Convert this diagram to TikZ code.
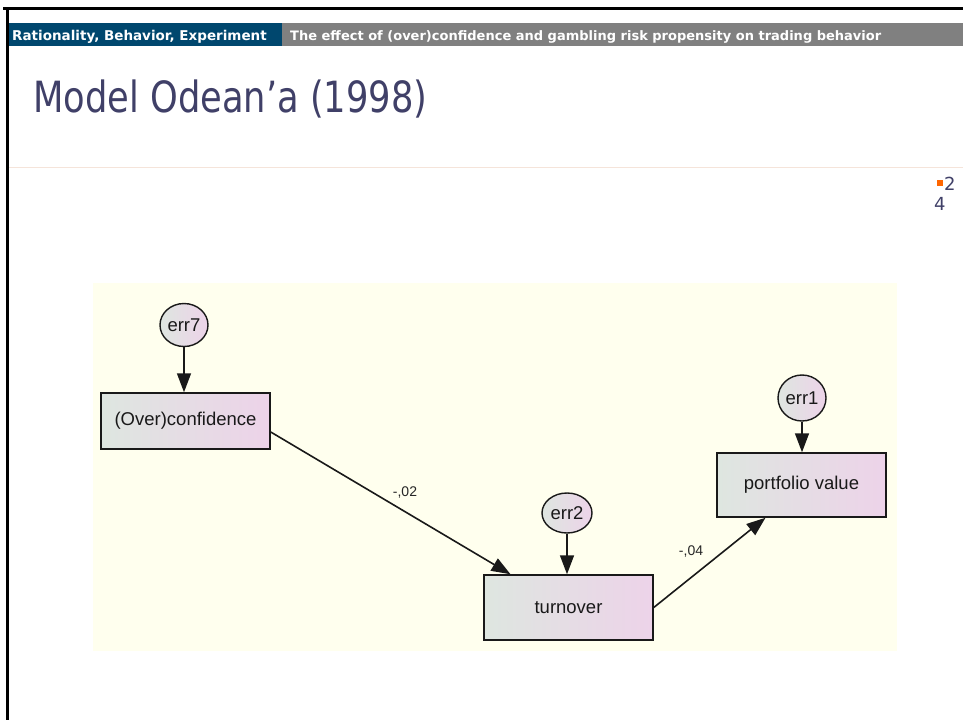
\documentclass[tikz,border=0pt]{standalone}
\usepackage{fontspec}
\setmainfont{Liberation Sans}
\newfontfamily\hdrfont{DejaVu Sans}
\newfontfamily\titlefont[FakeStretch=0.82]{DejaVu Sans}
\usetikzlibrary{shapes.geometric,arrows.meta}
\definecolor{hdrblue}{RGB}{0,71,110}
\definecolor{hdrgray}{RGB}{128,128,128}
\definecolor{titlecol}{RGB}{64,64,104}
\definecolor{sepcol}{RGB}{245,228,218}
\definecolor{bgyellow}{RGB}{255,255,238}
\definecolor{shadeL}{RGB}{222,230,224}
\definecolor{shadeR}{RGB}{237,211,233}
\definecolor{pgorange}{RGB}{255,102,0}
\tikzset{
  varbox/.style={rectangle, draw=black!90, line width=1.5pt, left color=shadeL, right color=shadeR,
    minimum width=169pt, inner sep=0pt, font=\fontsize{18.5}{22}\selectfont, text=black!90},
  errnode/.style={ellipse, draw=black!90, line width=1.4pt, left color=shadeL, right color=shadeR,
    inner sep=0pt, font=\fontsize{18.5}{22}\selectfont, text=black!90},
  path/.style={draw=black!90, line width=1.6pt, -{Triangle[length=19pt,width=14pt]}},
  coef/.style={font=\fontsize{14}{16}\selectfont, text=black!85}
}
\begin{document}
\begin{tikzpicture}[x=1pt,y=-1pt]
\useasboundingbox (0,0) rectangle (963,720);
\fill[white] (0,0) rectangle (963,720);
% frame lines
\draw[black, line width=2.5pt] (3,8.7) -- (963,8.7);
\draw[black, line width=2.5pt] (7.5,8) -- (7.5,720);
% header bar
\fill[hdrblue] (9,23) rectangle (282,46);
\fill[hdrgray] (282,23) rectangle (963,46);
\node[anchor=base west, text=white, font=\hdrfont\bfseries\fontsize{13.5}{15}\selectfont, inner sep=0pt] (h1) at (12,40) {Rationality, Behavior, Experiment};
\node[anchor=base west, text=white, font=\hdrfont\bfseries\fontsize{13.0}{15}\selectfont, inner sep=0pt] (h2) at (290,40) {The effect of (over)confidence and gambling risk propensity on trading behavior};
% title
\node[anchor=base west, text=titlecol, font=\titlefont\fontsize{43}{48}\selectfont, inner sep=0pt] (title) at (33,112) {Model Odean’a (1998)};
\draw[sepcol, line width=1pt] (9,167) -- (963,167);
% page number
\fill[pgorange] (937,180) rectangle (943,186);
\node[anchor=base west, text=titlecol, font=\hdrfont\fontsize{18}{20}\selectfont, inner sep=0pt] (pg2) at (944,190.5) {2};
\node[anchor=base west, text=titlecol, font=\hdrfont\fontsize{18}{20}\selectfont, inner sep=0pt] (pg4) at (934,210.5) {4};
% diagram background
\fill[bgyellow] (93,283) rectangle (897,651);
% nodes
\node[errnode, minimum width=48pt, minimum height=43pt] (err7) at (184,325) {err7};
\node[varbox, minimum height=56pt] (conf) at (185.5,421) {(Over)confidence};
\node[errnode, minimum width=50pt, minimum height=40pt] (err2) at (567,513) {err2};
\node[varbox, minimum height=65pt] (turn) at (568.5,607.5) {turnover};
\node[errnode, minimum width=48pt, minimum height=46pt] (err1) at (802,398) {err1};
\node[varbox, minimum height=64pt] (port) at (801.5,485) {portfolio value};
% connectors
\draw[path] (err7.south) -- (err7.south |- conf.north);
\draw[path] (err2.south) -- (err2.south |- turn.north);
\draw[path] (err1.south) -- (err1.south |- port.north);
\draw[path] ([yshift=-11pt]conf.east) -- ([xshift=-58pt]turn.north);
\draw[path] (turn.east) -- ([xshift=-36pt]port.south);
% coefficients
\node[coef] (c1) at (405,492) {-,02};
\node[coef] (c2) at (691,551) {-,04};
\end{tikzpicture}
\end{document}
